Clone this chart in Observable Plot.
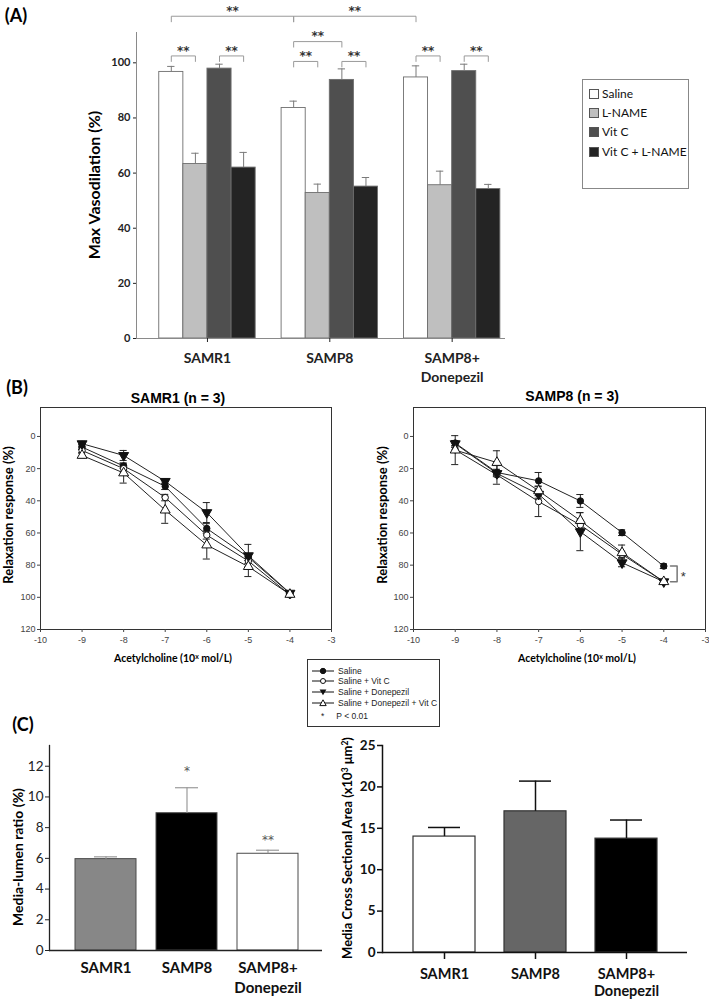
<!DOCTYPE html>
<html><head><meta charset="utf-8">
<script src="https://cdn.jsdelivr.net/npm/d3@7"></script>
<script src="https://cdn.jsdelivr.net/npm/@observablehq/plot@0.6"></script>
<style>
body{margin:0;background:#fff;}
#root{position:relative;width:709px;height:1002px;overflow:hidden;font-family:Lato, sans-serif;background:#fff;}
.lbl{position:absolute;white-space:nowrap;line-height:1;}
.lbl sup{font-size:65%;vertical-align:0.45em;}
</style></head>
<body><div id="root"></div>
<script>
// ================= DATA =================
// Panel A: maximal vasodilation (%)
const groupsA = ["SAMR1", "SAMP8", "SAMP8+ Donepezil"];
const groupLabelsA = ["SAMR1", "SAMP8", "SAMP8+\nDonepezil"];
const treatmentsA = ["Saline", "L-NAME", "Vit C", "Vit C + L-NAME"];
const salineA = [96.7, 83.6, 94.7];
const lnameA = [63.3, 52.8, 55.6];
const vitcA = [97.9, 93.8, 97.0];
const vitcLnameA = [62.0, 55.1, 54.2];
const salineErrA = [2.0, 2.5, 4.2];
const lnameErrA = [3.9, 3.2, 5.1];
const vitcErrA = [1.6, 4.0, 2.5];
const vitcLnameErrA = [5.5, 3.3, 1.7];
const yTicksA = [0, 20, 40, 60, 80, 100];
// significance brackets: group/treatment index of both ends, bracket level (y units)
const bracketsA = [
  {g1: 0, t1: 0, g2: 0, t2: 1, y: 102.5, label: "**"},
  {g1: 0, t1: 2, g2: 0, t2: 3, y: 102.5, label: "**"},
  {g1: 1, t1: 0, g2: 1, t2: 1, y: 100.5, label: "**"},
  {g1: 1, t1: 2, g2: 1, t2: 3, y: 100.5, label: "**"},
  {g1: 1, t1: 0, g2: 1, t2: 2, y: 107.7, label: "**"},
  {g1: 2, t1: 0, g2: 2, t2: 1, y: 102.5, label: "**"},
  {g1: 2, t1: 2, g2: 2, t2: 3, y: 102.5, label: "**"},
  {g1: 0, t1: 0, g2: 1, t2: 0, y: 116.9, label: "**"},
  {g1: 1, t1: 0, g2: 2, t2: 0, y: 116.9, label: "**"}
];

// Panel B: concentration-response curves
const doseB = [-9, -8, -7, -6, -5, -4];
const xTicksB = [-10, -9, -8, -7, -6, -5, -4, -3];
const yTicksB = [0, 20, 40, 60, 80, 100, 120];
const seriesB = ["Saline", "Saline + Vit C", "Saline + Donepezil", "Saline + Donepezil + Vit C"];
const samr1Saline = [6.6, 18.4, 31.0, 57.2, 75.1, 97.6];
const samr1SalineErr = [1.5, 1.5, 2.0, 3.0, 2.0, 1.0];
const samr1VitC = [8.7, 20.0, 38.0, 61.3, 77.4, 98.5];
const samr1VitCErr = [1.5, 2.0, 2.0, 2.5, 1.5, 0.8];
const samr1Done = [4.5, 11.8, 27.9, 47.3, 74.1, 97.4];
const samr1DoneErr = [1.5, 3.1, 1.5, 6.2, 7.0, 0.8];
const samr1DoneVitC = [11.8, 22.7, 45.8, 67.5, 80.9, 98.2];
const samr1DoneVitCErr = [1.5, 6.3, 8.2, 8.7, 6.2, 0.8];
const samp8Saline = [4.1, 22.4, 27.6, 40.1, 59.8, 80.6];
const samp8SalineErr = [1.5, 2.0, 5.2, 4.0, 1.8, 1.5];
const samp8VitC = [8.3, 23.9, 40.5, 55.0, 73.3, 90.3];
const samp8VitCErr = [1.5, 5.8, 9.3, 3.0, 2.0, 0.8];
const samp8Done = [4.5, 23.0, 35.9, 59.2, 78.5, 90.3];
const samp8DoneErr = [2.0, 2.0, 2.5, 11.8, 2.5, 0.8];
const samp8DoneVitC = [8.5, 16.2, 33.8, 52.3, 72.3, 90.3];
const samp8DoneVitCErr = [9.0, 7.3, 3.0, 5.0, 4.8, 0.8];
const sigB = [{x: -4, y1: 80.6, y2: 90.3, label: "*"}];

// Panel C
const groupsC = ["SAMR1", "SAMP8", "SAMP8+ Donepezil"];
const groupLabelsC = ["SAMR1", "SAMP8", "SAMP8+\nDonepezil"];
const ratioC = [5.95, 8.94, 6.30];
const ratioErrC = [0.15, 1.66, 0.23];
const ratioSigC = ["", "*", "**"];
const ratioSigLevelC = [null, 11.85, 7.4];
const areaC = [14.0, 17.05, 13.75];
const areaErrC = [1.1, 3.65, 2.25];
const yTicksC1 = [0, 2, 4, 6, 8, 10, 12];
const yTicksC2 = [0, 5, 10, 15, 20, 25];

// ================= HELPERS =================
const root = document.getElementById("root");
function label(html, x, y, o = {}) {
  const d = document.createElement("div");
  d.className = "lbl";
  d.innerHTML = html;
  d.style.left = x + "px";
  d.style.top = y + "px";
  d.style.fontSize = (o.size || 12) + "px";
  d.style.fontWeight = o.weight || "bold";
  d.style.fontFamily = o.family || "Lato, sans-serif";
  d.style.color = o.color || "#000";
  const tx = o.anchor === "start" ? "0" : "-50%";
  d.style.transform = `translate(${tx},-50%)` + (o.rotate ? " rotate(-90deg)" : "");
  root.appendChild(d);
  return d;
}
function place(svg, left, top) {
  svg.style.position = "absolute";
  svg.style.left = left + "px";
  svg.style.top = top + "px";
  root.appendChild(svg);
}
const baseStyle = {fontFamily: "Lato, sans-serif", background: "transparent", overflow: "visible"};
const starFont = "DejaVu Sans, sans-serif";

// ================= PANEL A =================
const colorsA = ["#ffffff", "#bfbfbf", "#4f4f4f", "#242424"];
const seriesValsA = [salineA, lnameA, vitcA, vitcLnameA];
const seriesErrsA = [salineErrA, lnameErrA, vitcErrA, vitcLnameErrA];
const rowsA = [];
groupsA.forEach((g, gi) => treatmentsA.forEach((t, ti) =>
  rowsA.push({g: gi, t: ti, group: g, treatment: t, value: seriesValsA[ti][gi], err: seriesErrsA[ti][gi]})));
const barW = 0.197;                       // bar width in group units
const cx = (g, t) => g + (t - 1.5) * barW; // bar centre (dodge within group)
const capA = 0.03;
const xDomA = [-0.58, 2.436];
const bracketPts = bracketsA.flatMap((b, i) => [
  {id: i, x: cx(b.g1, b.t1), y: b.y - 2},
  {id: i, x: cx(b.g1, b.t1), y: b.y},
  {id: i, x: cx(b.g2, b.t2), y: b.y},
  {id: i, x: cx(b.g2, b.t2), y: b.y - 2}
]);

const plotA = Plot.plot({
  width: 540, height: 390,
  marginLeft: 136, marginRight: 35, marginTop: 32, marginBottom: 52,
  x: {domain: xDomA},
  y: {domain: [0, 111]},
  color: {domain: treatmentsA, range: colorsA},
  style: baseStyle,
  marks: [
    Plot.rect(rowsA, {x1: d => cx(d.g, d.t) - barW / 2, x2: d => cx(d.g, d.t) + barW / 2,
      y1: d => 0, y2: "value", fill: "treatment", stroke: "#6e6e6e", strokeWidth: 0.9}),
    Plot.ruleX(rowsA, {x: d => cx(d.g, d.t), y1: "value", y2: d => d.value + d.err, stroke: "#7a7a7a"}),
    Plot.ruleY(rowsA, {y: d => d.value + d.err, x1: d => cx(d.g, d.t) - capA, x2: d => cx(d.g, d.t) + capA, stroke: "#7a7a7a"}),
    Plot.line(bracketPts, {x: "x", y: "y", z: "id", stroke: "#9a9a9a", strokeWidth: 1}),
    Plot.text(bracketsA, {x: b => (cx(b.g1, b.t1) + cx(b.g2, b.t2)) / 2, y: b => b.y + 1.9,
      text: "label", fontSize: 12, fontWeight: "bold", fontFamily: starFont, fill: "#333"}),
    Plot.ruleY([0], {stroke: "#8a8a8a"}),
    Plot.ruleX([xDomA[0]], {stroke: "#8a8a8a"}),
    Plot.axisY(yTicksA, {tickSize: 3, tickPadding: 3, fontSize: 11, fontWeight: "bold", color: "#222", label: null}),
    Plot.axisX([0, 1, 2], {tickSize: 4, tickPadding: 8, fontSize: 14, fontWeight: "bold", lineHeight: 1.3,
      color: "#222", label: null, tickFormat: i => groupLabelsA[i]})
  ]
});
place(plotA, 0, 0);
label("(A)", 16, 15, {size: 18});
label("Max Vasodilation (%)", 94, 185, {size: 16, rotate: true});

// legend A
const legA = document.createElement("div");
legA.style.cssText = "position:absolute;left:582px;top:79px;width:107px;height:110px;border:1px solid #888;background:#fff;box-sizing:border-box;";
treatmentsA.forEach((t, i) => {
  const yc = 14 + i * 19.2;
  const sw = document.createElement("div");
  sw.style.cssText = `position:absolute;left:6px;top:${yc - 5}px;width:8px;height:8px;border:1px solid #555;background:${colorsA[i]};`;
  legA.appendChild(sw);
  const tx = document.createElement("div");
  tx.style.cssText = `position:absolute;left:19px;top:${yc - 7}px;font:12px Lato, sans-serif;color:#111;white-space:nowrap;line-height:14px;`;
  tx.textContent = t;
  legA.appendChild(tx);
});
root.appendChild(legA);

// ================= PANEL B =================
const triDown = {
  draw(ctx, size) {
    const y = -Math.sqrt(size / (Math.sqrt(3) * 3));
    ctx.moveTo(0, -y * 2);
    ctx.lineTo(-Math.sqrt(3) * y, y);
    ctx.lineTo(Math.sqrt(3) * y, y);
    ctx.closePath();
  }
};
const symStyles = [
  {symbol: "circle", fill: "#111", r: 3.2},
  {symbol: "circle", fill: "#fff", r: 3.2},
  {symbol: triDown, fill: "#111", r: 3.7},
  {symbol: "triangle", fill: "#fff", r: 3.7}
];
function curvePlot(vals, errs, sig, opts) {
  const rows = seriesB.flatMap((s, si) => doseB.map((x, i) => ({series: s, si, x, y: vals[si][i], err: errs[si][i]})));
  const capB = 0.085;
  const marks = [
    Plot.frame({stroke: "#333"}),
    Plot.line(rows, {x: "x", y: "y", z: "series", stroke: "#222", strokeWidth: 1}),
    Plot.ruleX(rows, {x: "x", y1: d => d.y - d.err, y2: d => d.y + d.err, stroke: "#222"}),
    Plot.ruleY(rows, {y: d => d.y - d.err, x1: d => d.x - capB, x2: d => d.x + capB, stroke: "#222"}),
    Plot.ruleY(rows, {y: d => d.y + d.err, x1: d => d.x - capB, x2: d => d.x + capB, stroke: "#222"}),
    ...symStyles.map((st, si) => Plot.dot(rows.filter(d => d.si === si),
      {x: "x", y: "y", r: st.r, symbol: st.symbol, fill: st.fill, stroke: "#111", strokeWidth: 1})),
    Plot.axisX(xTicksB, {tickSize: 3, tickPadding: 4, fontSize: 9, fontFamily: "Liberation Sans, Arial, sans-serif",
      color: "#444", label: null, tickFormat: d => String(d)}),
    Plot.axisY(yTicksB, {tickSize: 3, tickPadding: 2, fontSize: 9, fontFamily: "Liberation Sans, Arial, sans-serif",
      color: "#444", label: null, tickFormat: d => String(d)})
  ];
  if (sig.length) {
    const pts = sig.flatMap((s, i) => [
      {id: i, x: s.x + 0.16, y: s.y1}, {id: i, x: s.x + 0.32, y: s.y1},
      {id: i, x: s.x + 0.32, y: s.y2}, {id: i, x: s.x + 0.16, y: s.y2}]);
    marks.push(Plot.line(pts, {x: "x", y: "y", z: "id", stroke: "#777"}));
    marks.push(Plot.text(sig, {x: d => d.x + 0.47, y: d => (d.y1 + d.y2) / 2, text: "label", dy: 3,
      fontSize: 13, fill: "#333", fontFamily: "Liberation Sans, Arial, sans-serif"}));
  }
  return Plot.plot({
    width: opts.width, height: 290,
    marginLeft: opts.marginLeft, marginRight: opts.marginRight, marginTop: 27, marginBottom: 41,
    x: {domain: [-10, -3]},
    y: {domain: [-18, 120], reverse: true},
    style: baseStyle,
    marks
  });
}
const plotB1 = curvePlot([samr1Saline, samr1VitC, samr1Done, samr1DoneVitC],
  [samr1SalineErr, samr1VitCErr, samr1DoneErr, samr1DoneVitCErr], [], {width: 345, marginLeft: 40, marginRight: 14});
place(plotB1, 0, 380);
const plotB2 = curvePlot([samp8Saline, samp8VitC, samp8Done, samp8DoneVitC],
  [samp8SalineErr, samp8VitCErr, samp8DoneErr, samp8DoneVitCErr], sigB, {width: 359, marginLeft: 63, marginRight: 4});
place(plotB2, 350, 380);

label("(B)", 17, 387, {size: 18});
label("SAMR1 (n = 3)", 178, 398, {size: 14, family: "Liberation Sans, Arial, sans-serif"});
label("SAMP8 (n = 3)", 572, 396, {size: 14, family: "Liberation Sans, Arial, sans-serif"});
label("Relaxation response (%)", 8, 515, {size: 13, rotate: true});
label("Relaxation response (%)", 382, 515, {size: 13, rotate: true});
label("Acetylcholine (10<sup>x</sup> mol/L)", 173, 658, {size: 10.5});
label("Acetylcholine (10<sup>x</sup> mol/L)", 577, 658, {size: 10.5});

// legend B
const legB = document.createElement("div");
legB.style.cssText = "position:absolute;left:307px;top:659px;width:133px;height:68px;border:1px solid #333;background:#fff;box-sizing:border-box;";
const markerSvg = [
  '<circle cx="11" cy="5" r="2.7" fill="#111" stroke="#111"/>',
  '<circle cx="11" cy="5" r="2.5" fill="#fff" stroke="#111"/>',
  '<path d="M7.6,2.6 L14.4,2.6 L11,8.2 Z" fill="#111"/>',
  '<path d="M11,1.8 L14.2,7.6 L7.8,7.6 Z" fill="#fff" stroke="#111"/>'
];
seriesB.forEach((s, i) => {
  const yc = 10.5 + i * 10.7;
  const e = document.createElement("div");
  e.style.cssText = `position:absolute;left:4px;top:${yc - 5}px;height:10px;white-space:nowrap;font:8.5px 'Liberation Sans', Arial, sans-serif;color:#222;line-height:10px;`;
  e.innerHTML = `<svg width="23" height="10" style="vertical-align:top"><line x1="0" y1="5" x2="22" y2="5" stroke="#111"/>${markerSvg[i]}</svg><span style="margin-left:3px">${s}</span>`;
  legB.appendChild(e);
});
const eP = document.createElement("div");
eP.style.cssText = "position:absolute;left:13px;top:51px;white-space:nowrap;font:8.5px 'Liberation Sans', Arial, sans-serif;color:#222;line-height:10px;";
eP.innerHTML = '<span>*</span><span style="margin-left:12px">P &lt; 0.01</span>';
legB.appendChild(eP);
root.appendChild(legB);

// ================= PANEL C =================
const rowsC1 = groupsC.map((g, i) => ({group: g, value: ratioC[i], err: ratioErrC[i], sig: ratioSigC[i], level: ratioSigLevelC[i]}));
const plotC1 = Plot.plot({
  width: 335, height: 267,
  marginLeft: 49, marginRight: 13, marginTop: 10, marginBottom: 52,
  x: {domain: groupsC, paddingInner: 0.247, paddingOuter: 0.305, align: 0.52},
  y: {domain: [0, 13.35]},
  color: {domain: groupsC, range: ["#878787", "#000000", "#ffffff"]},
  style: baseStyle,
  marks: [
    Plot.barY(rowsC1, {x: "group", y: "value", fill: "group", stroke: "#4a4a4a", strokeWidth: 1}),
    Plot.ruleX(rowsC1, {x: "group", y1: "value", y2: d => d.value + d.err, stroke: "#9a9a9a", strokeWidth: 1.2}),
    Plot.tickY(rowsC1, {x: "group", y: d => d.value + d.err, stroke: "#9a9a9a", strokeWidth: 1.2, inset: 19}),
    Plot.text(rowsC1.filter(d => d.sig), {x: "group", y: "level", text: "sig", fontSize: 12, dy: 3,
      fontFamily: starFont, fill: "#555"}),
    Plot.ruleY([0], {stroke: "#222", strokeWidth: 1.3}),
    Plot.frame({anchor: "left", stroke: "#222", strokeWidth: 1.3}),
    Plot.axisY(yTicksC1, {tickSize: 4, tickPadding: 2, fontSize: 13.5, color: "#222", label: null}),
    Plot.axisX({tickSize: 0, tickPadding: 9, fontSize: 15, fontWeight: "bold", lineHeight: 1.3, color: "#111",
      label: null, tickFormat: g => groupLabelsC[groupsC.indexOf(g)]})
  ]
});
place(plotC1, 0, 735);

const rowsC2 = groupsC.map((g, i) => ({group: g, value: areaC[i], err: areaErrC[i]}));
const plotC2 = Plot.plot({
  width: 359, height: 267,
  marginLeft: 32, marginRight: 22, marginTop: 10, marginBottom: 50,
  x: {domain: groupsC, paddingInner: 0.324, paddingOuter: 0.325, align: 0.51},
  y: {domain: [0, 25]},
  color: {domain: groupsC, range: ["#ffffff", "#666666", "#000000"]},
  style: baseStyle,
  marks: [
    Plot.barY(rowsC2, {x: "group", y: "value", fill: "group", stroke: "#333", strokeWidth: 1.2}),
    Plot.ruleX(rowsC2, {x: "group", y1: "value", y2: d => d.value + d.err, stroke: "#111", strokeWidth: 1.5}),
    Plot.tickY(rowsC2, {x: "group", y: d => d.value + d.err, stroke: "#111", strokeWidth: 1.5, inset: 15}),
    Plot.ruleY([0], {stroke: "#111", strokeWidth: 1.5}),
    Plot.frame({anchor: "left", stroke: "#111", strokeWidth: 1.5}),
    Plot.axisY(yTicksC2, {tickSize: 5, tickPadding: 2, fontSize: 13.5, fontWeight: "bold", color: "#111", label: null, strokeWidth: 1.5}),
    Plot.axisX({tickSize: 7, tickPadding: 7, fontSize: 14.5, fontWeight: "bold", lineHeight: 1.2, color: "#111",
      label: null, strokeWidth: 1.5, tickFormat: g => groupLabelsC[groupsC.indexOf(g)]})
  ]
});
place(plotC2, 350, 735);

label("(C)", 23, 724, {size: 18});
label("Media-lumen ratio (%)", 18, 857, {size: 14, rotate: true});
label("Media Cross Sectional Area (x10<sup>3</sup> μm<sup>2</sup>)", 347, 848, {size: 13, rotate: true});
</script>
</body></html>
